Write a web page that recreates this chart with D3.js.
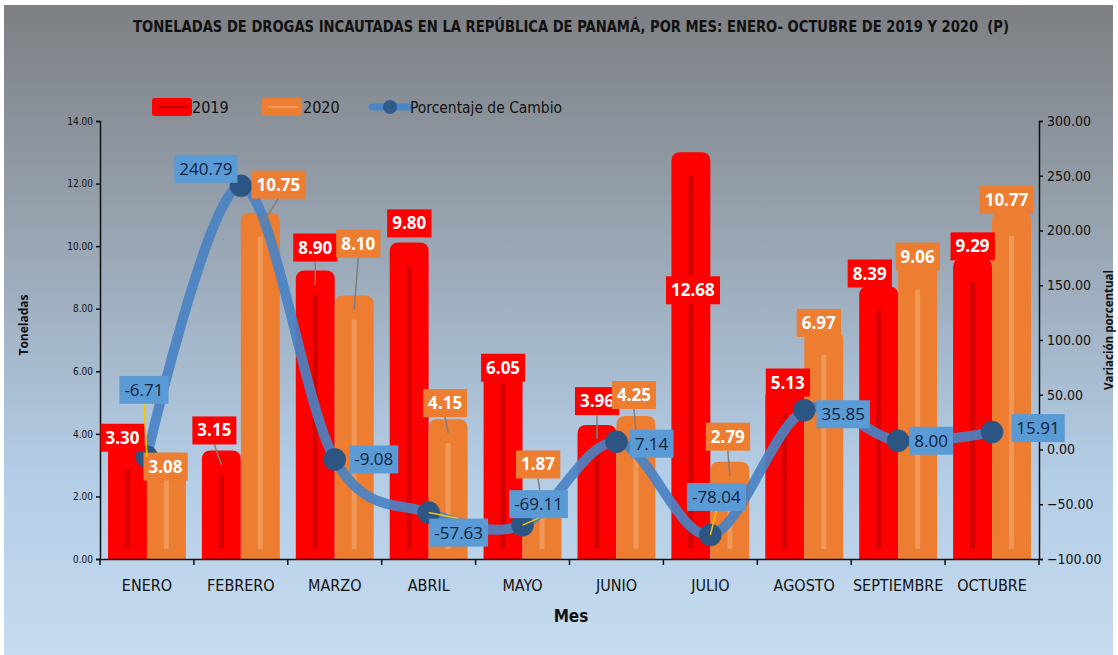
<!DOCTYPE html>
<html>
<head>
<meta charset="utf-8">
<style>
  body { margin: 0; background: #fff; }
  svg text { font-family: "Liberation Sans Narrow", "DejaVu Sans Condensed", "Open Sans", sans-serif; }
  .lbl { font-family: "Open Sans", "Noto Sans", sans-serif; }
</style>
</head>
<body>
<svg id="chart" width="1118" height="655"></svg>
<script src="https://d3js.org/d3.v7.min.js"></script>
<script>
// datos
const meses = ['ENERO', 'FEBRERO', 'MARZO', 'ABRIL', 'MAYO', 'JUNIO', 'JULIO', 'AGOSTO', 'SEPTIEMBRE', 'OCTUBRE'];
const ton2019 = [3.30, 3.15, 8.90, 9.80, 6.05, 3.96, 12.68, 5.13, 8.39, 9.29];
const ton2020 = [3.08, 10.75, 8.10, 4.15, 1.87, 4.25, 2.79, 6.97, 9.06, 10.77];
const cambio = [-6.71, 240.79, -9.08, -57.63, -69.11, 7.14, -78.04, 35.85, 8.00, 15.91];
const ticksIzq = [0, 2, 4, 6, 8, 10, 12, 14];
const ticksDer = [-100, -50, 0, 50, 100, 150, 200, 250, 300];

// posicion de las etiquetas: [dx, dy, linea guia]
const pos2019 = [[-5,-18,0],[-7,-30,1],[0,-33,1],[0,-29,0],[0,-2,0],[0,-34,1],[2,128,0],[3,-16,0],[-9,-23,0],[0,-22,0]];
const pos2020 = [[-1,4,0],[18,-38,1],[4,-62,1],[-3,-26,1],[-4,-36,1],[-2,-31,1],[-2,-35,1],[-5,-18,0],[0,-19,0],[-5,-22,0]];
const posCambio = [[-3,-67,1],[-35,-17,0],[39,0,0],[30,20,1],[16,-21,1],[35,2,0],[6,-38,1],[39,4,0],[33,0,0],[46,-4,0]];

const svg = d3.select('#chart');
const W = 1118, H = 655;
const m = { left: 100, right: 1039, top: 121, bottom: 559 };

// fondo degradado
const defs = svg.append('defs');
const grad = defs.append('linearGradient').attr('id', 'bg').attr('x1', 0).attr('y1', 0).attr('x2', 0).attr('y2', 1);
grad.append('stop').attr('offset', '0%').attr('stop-color', '#7d7f83');
grad.append('stop').attr('offset', '35%').attr('stop-color', '#98a4b1');
grad.append('stop').attr('offset', '72%').attr('stop-color', '#b3cde6');
grad.append('stop').attr('offset', '100%').attr('stop-color', '#c6dbef');
svg.append('rect').attr('x', 4).attr('y', 5).attr('width', W - 9).attr('height', H - 5).attr('fill', 'url(#bg)');

const x = d3.scaleBand().domain(meses).range([m.left, m.right]);
const bw = x.bandwidth();
const pad = 8, half = (bw - 2 * pad) / 2;
const y = d3.scaleLinear().domain([0, 14]).range([m.bottom, m.top]);
const yR = d3.scaleLinear().domain([-100, 300]).range([m.bottom, m.top]);

// titulo
svg.append('text').attr('x', 571).attr('y', 32).attr('text-anchor', 'middle')
  .attr('textLength', 876).attr('lengthAdjust', 'spacingAndGlyphs')
  .style('font-weight', 'bold').style('font-size', '16px').attr('fill', '#111')
  .text('TONELADAS DE DROGAS INCAUTADAS EN LA REPÚBLICA DE PANAMÁ, POR MES: ENERO- OCTUBRE DE 2019 Y 2020\u00a0 (P)');

// leyenda
const leg = svg.append('g').style('font-size', '16px');
leg.append('rect').attr('x', 152).attr('y', 98).attr('width', 40).attr('height', 18).attr('rx', 3).attr('fill', '#ff0000');
leg.append('line').attr('x1', 158).attr('x2', 188).attr('y1', 107).attr('y2', 107).attr('stroke', '#c00000').attr('stroke-width', 2);
leg.append('text').attr('x', 192).attr('y', 113).attr('fill', '#111').text('2019');
leg.append('rect').attr('x', 262).attr('y', 98).attr('width', 40).attr('height', 18).attr('rx', 3).attr('fill', '#ed7d31');
leg.append('line').attr('x1', 268).attr('x2', 298).attr('y1', 107).attr('y2', 107).attr('stroke', '#f29a5a').attr('stroke-width', 2);
leg.append('text').attr('x', 303).attr('y', 113).attr('fill', '#111').text('2020');
leg.append('line').attr('x1', 372).attr('x2', 408).attr('y1', 107).attr('y2', 107).attr('stroke', '#4a86c6').attr('stroke-width', 7).attr('stroke-linecap', 'round');
leg.append('circle').attr('cx', 390).attr('cy', 107).attr('r', 7).attr('fill', '#2f5a8c');
leg.append('text').attr('x', 410).attr('y', 113).attr('fill', '#111')
  .attr('textLength', 152).attr('lengthAdjust', 'spacingAndGlyphs').text('Porcentaje de Cambio');

// barras
function barPath(x0, w, v) {
  const top = y(v) - 10, r = 9, b = y(0);
  return `M${x0},${b}V${top + r}Q${x0},${top} ${x0 + r},${top}H${x0 + w - r}Q${x0 + w},${top} ${x0 + w},${top + r}V${b}Z`;
}
const series = [
  { vals: ton2019, off: pad, fill: '#ff0000', stripe: '#d50000', pos: pos2019 },
  { vals: ton2020, off: pad + half, fill: '#ed7d31', stripe: '#f09858', pos: pos2020 }
];
series.forEach(s => {
  const g = svg.append('g');
  g.selectAll('path').data(meses).join('path')
    .attr('d', (d, i) => barPath(x(d) + s.off, half, s.vals[i]))
    .attr('fill', s.fill);
  g.selectAll('rect').data(meses).join('rect')
    .attr('x', d => x(d) + s.off + half / 2 - 2.5).attr('width', 5)
    .attr('y', (d, i) => Math.min(y(s.vals[i]) + 14, y(0) - 12))
    .attr('height', (d, i) => Math.max(0, y(0) - 10 - Math.min(y(s.vals[i]) + 14, y(0) - 12)))
    .attr('fill', s.stripe);
});

// ejes
const axL = svg.append('g').attr('transform', `translate(${m.left},0)`)
  .call(d3.axisLeft(y).tickValues(ticksIzq).tickFormat(d3.format('.2f')).tickSize(4));
axL.selectAll('text').style('font-size', '10px').attr('fill', '#111');
const axR = svg.append('g').attr('transform', `translate(${m.right},0)`)
  .call(d3.axisRight(yR).tickValues(ticksDer).tickFormat(d3.format('.2f')).tickSize(4));
axR.selectAll('text').style('font-size', '14px').attr('fill', '#111').attr('x', 8);
const axB = svg.append('g').attr('transform', `translate(0,${m.bottom})`)
  .call(d3.axisBottom(x).tickSize(0));
axB.selectAll('text').style('font-size', '16px').attr('fill', '#111').attr('dy', 0).attr('y', 32);
axB.selectAll('.tick').append('line').attr('x1', -bw / 2).attr('x2', -bw / 2).attr('y2', 6).attr('stroke', '#111').attr('stroke-width', 1.5);
axB.append('line').attr('x1', m.right).attr('x2', m.right).attr('y2', 6).attr('stroke', '#111').attr('stroke-width', 1.5);
[axL, axR, axB].forEach(a => a.selectAll('path, line').attr('stroke', '#111').attr('stroke-width', 1.5));

// titulos de ejes
svg.append('text').attr('transform', 'translate(28,325) rotate(-90)').attr('text-anchor', 'middle')
  .attr('class', 'lbl').style('font-size', '12px').style('font-weight', 'bold').attr('fill', '#111').text('Toneladas');
svg.append('text').attr('transform', 'translate(1113,330) rotate(-90)').attr('text-anchor', 'middle')
  .attr('class', 'lbl').style('font-size', '11.5px').style('font-weight', 'bold').attr('fill', '#111').text('Variación porcentual');
svg.append('text').attr('x', 571).attr('y', 622).attr('text-anchor', 'middle')
  .style('font-size', '17px').style('font-weight', 'bold').attr('fill', '#111').text('Mes');

// linea de cambio
const px = d => x(d) + pad + half;
const pts = meses.map((d, i) => [px(d), yR(cambio[i])]);
svg.append('path').attr('d', d3.line().curve(d3.curveCardinal.tension(0))(pts))
  .attr('fill', 'none').attr('stroke', '#4a82c3').attr('stroke-width', 10).attr('stroke-opacity', 0.92);
svg.selectAll('.pt').data(pts).join('circle').attr('class', 'pt')
  .attr('cx', d => d[0]).attr('cy', d => d[1]).attr('r', 11)
  .attr('fill', '#2c5583').attr('stroke', '#2c5583').attr('stroke-opacity', 0.6);

// etiquetas
function label(cx, cy, txt, fill, color, leaderColor, ax, ay) {
  const g = svg.append('g');
  const t = g.append('text').attr('class', 'lbl').attr('x', cx).attr('y', cy + 6).attr('text-anchor', 'middle')
    .style('font-size', '17px').style('font-weight', color === '#fff' ? 'bold' : 'normal').attr('fill', color).text(txt);
  const bb = t.node().getBBox();
  const bx = bb.x - 5, by = cy - 14, bwid = bb.width + 10, bh = 28;
  if (leaderColor) {
    const ly = ay > cy ? by + bh : by;
    g.insert('line', 'text').attr('x1', cx).attr('y1', ly).attr('x2', ax).attr('y2', ay)
      .attr('stroke', leaderColor).attr('stroke-width', 1.5);
  }
  g.insert('rect', 'text').attr('x', bx).attr('y', by).attr('width', bwid).attr('height', bh).attr('fill', fill);
}
series.forEach(s => {
  meses.forEach((d, i) => {
    const ax = x(d) + s.off + half / 2, ay = y(s.vals[i]);
    const [dx, dy, guia] = s.pos[i];
    label(ax + dx, ay + dy, s.vals[i].toFixed(2), s.fill, '#fff', guia ? '#7f7f7f' : null, ax, ay + 4);
  });
});
meses.forEach((d, i) => {
  const [ax, ay] = pts[i];
  const [dx, dy, guia] = posCambio[i];
  label(ax + dx, ay + dy, cambio[i].toFixed(2), '#5b9bd5', '#10243d', guia ? '#f5c400' : null, ax, ay);
});
</script>
</body>
</html>
